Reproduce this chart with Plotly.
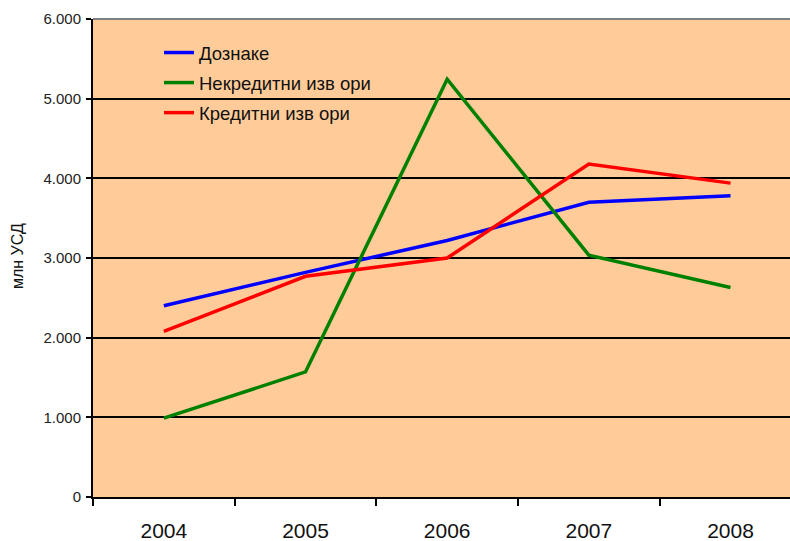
import plotly.graph_objects as go

years = ["2004", "2005", "2006", "2007", "2008"]
doznake = [2400, 2820, 3220, 3700, 3780]
nekreditni = [990, 1570, 5245, 3035, 2630]
kreditni = [2080, 2770, 3000, 4180, 3940]
y_ticks = [0, 1000, 2000, 3000, 4000, 5000, 6000]
y_ticklabels = ["0", "1.000", "2.000", "3.000", "4.000", "5.000", "6.000"]

series = [
    ("Дознаке", doznake, "#0000FF"),
    ("Некредитни изв ори", nekreditni, "#008000"),
    ("Кредитни изв ори", kreditni, "#FF0000"),
]

W, H = 790, 541
L, R, T, B = 93, 0, 19, 44
PW, PH = W - L - R, H - T - B


def px(x):
    return (x - L) / PW


def py(y):
    return (H - B - y) / PH


fig = go.Figure()
for i, (name, vals, col) in enumerate(series):
    fig.add_trace(go.Scatter(x=years, y=vals, mode="lines", name=name,
                             line=dict(color=col, width=3.5),
                             legendgroup=f"g{i}"))

fig.update_layout(
    width=W, height=H,
    margin=dict(l=L, r=R, t=T, b=B, autoexpand=False),
    paper_bgcolor="white",
    plot_bgcolor="#FFCC99",
    font=dict(family="Arial, Liberation Sans, sans-serif", color="#111"),
    showlegend=True,
    legend=dict(x=px(159), y=py(34), xanchor="left", yanchor="top",
                bgcolor="rgba(0,0,0,0)", borderwidth=0,
                font=dict(size=18.5, color="#111"),
                tracegroupgap=3, traceorder="grouped"),
)
fig.update_xaxes(
    type="category", range=[-0.5, 4.42], automargin=False,
    tickson="boundaries", ticks="outside", ticklen=7, tickwidth=2, tickcolor="black",
    showline=True, linecolor="black", linewidth=2,
    showgrid=False, tickfont=dict(size=21, color="#111"),
    ticklabelstandoff=14,
)
fig.update_yaxes(
    range=[0, 6000], tickvals=y_ticks, ticktext=y_ticklabels, automargin=False,
    ticks="outside", ticklen=5, tickwidth=2, tickcolor="black",
    showline=True, linecolor="black", linewidth=2,
    showgrid=True, gridcolor="black", gridwidth=2,
    tickfont=dict(size=15, color="#222"), zeroline=False,
    ticklabelstandoff=2,
)
# legend box background (hides grid line behind the legend)
fig.add_shape(type="rect", xref="paper", yref="paper",
              x0=px(136), x1=px(385), y0=py(127), y1=py(37),
              fillcolor="#FFCC99", line=dict(width=0), layer="below")
fig.add_shape(type="line", xref="paper", yref="paper", x0=0, x1=1, y0=1, y1=1,
              line=dict(color="#808080", width=2))
fig.add_annotation(text="млн УСД", xref="paper", yref="paper",
                   x=px(17), y=py(256), textangle=-90,
                   showarrow=False, font=dict(size=16, color="#111"),
                   xanchor="center", yanchor="middle")

fig.write_html("out.html", config={"displayModeBar": False},
               post_script="document.body.style.margin='0';")
